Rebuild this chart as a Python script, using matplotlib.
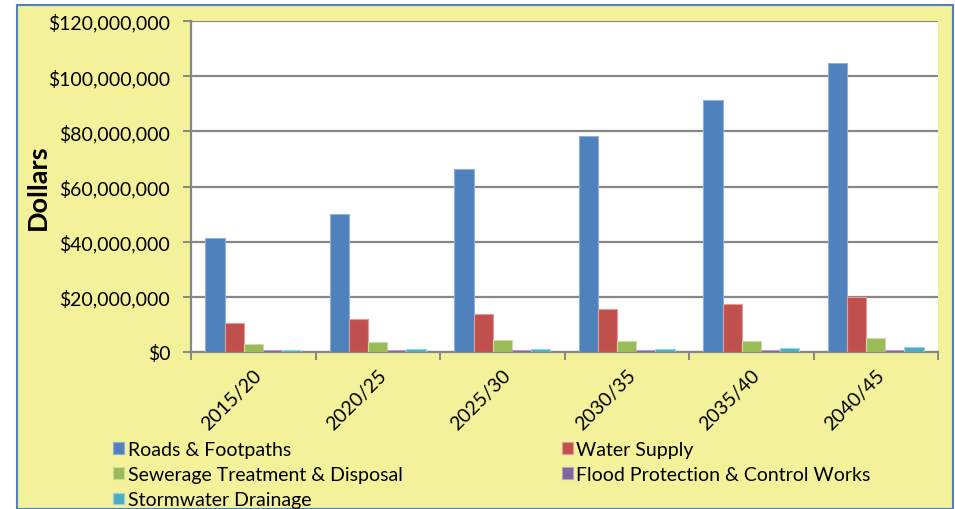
import matplotlib
matplotlib.use("Agg")
import matplotlib.pyplot as plt
from matplotlib.patches import Rectangle
from matplotlib.ticker import FuncFormatter, MultipleLocator
import numpy as np

plt.rcParams['font.family'] = ['Lato', 'DejaVu Sans']

periods = ["2015/20", "2020/25", "2025/30", "2030/35", "2035/40", "2040/45"]
roads = [41.2e6, 50.0e6, 66.2e6, 78.3e6, 91.2e6, 104.6e6]
water = [10.4e6, 12.0e6, 13.7e6, 15.6e6, 17.5e6, 19.8e6]
sewerage = [2.8e6, 3.5e6, 4.2e6, 3.9e6, 4.1e6, 5.0e6]
flood = [0.6e6, 0.6e6, 0.6e6, 0.6e6, 0.6e6, 0.6e6]
stormwater = [0.7e6, 1.0e6, 1.1e6, 1.1e6, 1.3e6, 1.7e6]

series_names = ["Roads & Footpaths", "Water Supply", "Sewerage Treatment & Disposal",
                "Flood Protection & Control Works", "Stormwater Drainage"]
series_values = [roads, water, sewerage, flood, stormwater]
colors = ["#4F81BD", "#C0504D", "#9BBB59", "#8064A2", "#4BACC6"]
edge_colors = ["#8FB0DA", "#E49A98", "#C9DCA6", "#B3A2C9", "#95D2E2"]

W, H = 955, 510
bg = "#F3F19A"
fs = 14.0
fig = plt.figure(figsize=(W / 100, H / 100), dpi=100)
fig.patch.set_facecolor("white")

# yellow chart panel with blue frame
panel = Rectangle((17 / W, 0), (953 - 17) / W, (H - 6) / H, transform=fig.transFigure,
                  facecolor=bg, edgecolor="#4F81BD", linewidth=1.5, zorder=-10)
fig.patches.append(panel)

left, right, top, bottom = 191, 938, 22, 353
ax = fig.add_axes([left / W, 1 - bottom / H, (right - left) / W, (bottom - top) / H])
ax.set_zorder(1)
ax.set_facecolor("white")

n_series = len(series_values)
n_cat = len(periods)
bar_w = 1.0 / (n_series + 1.5)
x = np.arange(n_cat)
for i, (name, vals) in enumerate(zip(series_names, series_values)):
    offs = -n_series * bar_w / 2 + bar_w * (i + 0.5)
    ax.bar(x + offs, vals, width=bar_w, color=colors[i], edgecolor=edge_colors[i],
           linewidth=0.8, label=name, zorder=3)

ax.set_xlim(-0.5, n_cat - 0.5)
ax.set_ylim(0, 120e6)
ax.yaxis.set_major_locator(MultipleLocator(20e6))
ax.yaxis.set_major_formatter(FuncFormatter(lambda v, p: "${:,.0f}".format(v)))
ax.grid(axis="y", color="#878787", linewidth=1.6, zorder=1)
ax.set_axisbelow(True)

for s in ["top", "right"]:
    ax.spines[s].set_visible(False)
for s in ["left", "bottom"]:
    ax.spines[s].set_color("#878787")
    ax.spines[s].set_linewidth(1.6)

ax.tick_params(axis="y", length=6, width=1.4, color="#878787", labelsize=fs, pad=9)
ax.set_xticks(np.arange(-0.5, n_cat, 1.0))
ax.set_xticklabels([])
ax.tick_params(axis="x", length=6, width=1.4, color="#878787")
ax.set_xticks(x, minor=True)
ax.set_xticklabels(periods, minor=True, rotation=45, ha="right", rotation_mode="anchor",
                   fontsize=fs)
ax.tick_params(axis="x", which="minor", length=0, pad=10)

fig.text(37.5 / W, 1 - 187.5 / H, "Dollars", rotation=90, ha="center", va="center",
         fontsize=19.5, fontweight="bold")

# Excel-style row-wise legend order in two columns
handles, labels = ax.get_legend_handles_labels()
order = [0, 2, 4, 1, 3]
leg = fig.legend([handles[k] for k in order], [labels[k] for k in order], ncol=2,
                 loc="upper left", bbox_to_anchor=(113 / W, 1 - 442 / H), frameon=False,
                 fontsize=fs, handlelength=0.55, handleheight=0.55, handletextpad=0.2,
                 labelspacing=0.42, columnspacing=8.2, borderaxespad=0, borderpad=0)

fig.savefig("out.png", dpi=100, facecolor=fig.get_facecolor())
